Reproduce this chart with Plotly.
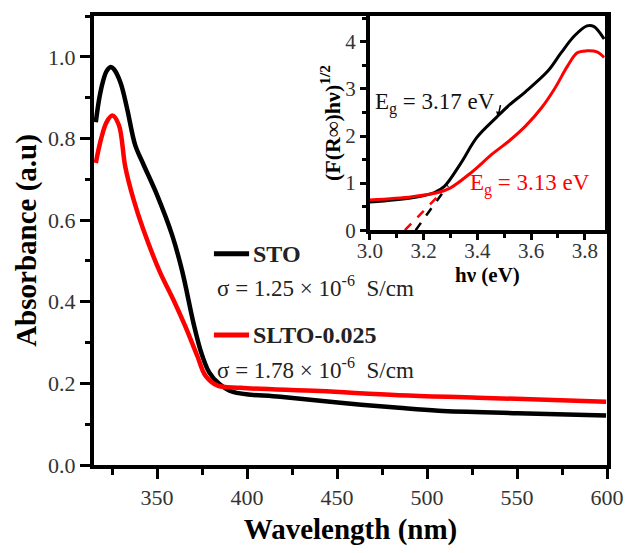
import plotly.graph_objects as go

# ---- main panel data (UV-vis absorbance) ----
sto_wl = [316, 318, 320, 322, 324.3, 326, 329.7, 333.4, 337.8, 342.3, 349.6, 358.5, 364,
          370.3, 374.6, 379, 384.5, 392.2, 418.5, 450.4, 484.4, 506.4, 550.3, 599.5]
sto_abs = [0.84, 0.90, 0.94, 0.965, 0.975, 0.97, 0.937, 0.873, 0.785, 0.738, 0.666, 0.562, 0.475,
           0.347, 0.275, 0.227, 0.199, 0.179, 0.167, 0.153, 0.140, 0.133, 0.127, 0.121]
slto_wl = [316, 319, 322, 325.2, 328.8, 332.4, 337, 342.3, 351.4, 359.3, 365.8, 372.4,
           376.9, 383.4, 396.6, 440.5, 484.3, 528.3, 599.5]
slto_abs = [0.74, 0.80, 0.84, 0.856, 0.833, 0.73, 0.65, 0.578, 0.475, 0.403, 0.339, 0.267,
            0.219, 0.195, 0.189, 0.181, 0.171, 0.165, 0.155]

# ---- inset data (Kubelka-Munk) ----
sto_ev = [3.0, 3.157, 3.24, 3.277, 3.338, 3.398, 3.47, 3.519, 3.579, 3.664, 3.712, 3.76,
          3.808, 3.833, 3.872]
sto_km = [0.60, 0.69, 0.80, 0.93, 1.42, 1.97, 2.39, 2.66, 2.94, 3.39, 3.77, 4.12, 4.34, 4.33, 4.06]
slto_ev = [3.0, 3.157, 3.253, 3.3, 3.374, 3.458, 3.519, 3.579, 3.639, 3.688, 3.736, 3.772,
           3.808, 3.845, 3.872]
slto_km = [0.64, 0.71, 0.80, 0.90, 1.21, 1.63, 1.90, 2.21, 2.60, 3.01, 3.49, 3.77, 3.81, 3.79, 3.67]
sto_fit_x = [3.17, 3.29]
sto_fit_y = [0.0, 0.95]
slto_fit_x = [3.13, 3.27]
slto_fit_y = [0.0, 0.82]

series_names = ["STO", "SLTO-0.025"]
sigma_labels = ["σ = 1.25 × 10<sup>-6</sup>  S/cm", "σ = 1.78 × 10<sup>-6</sup>  S/cm"]
eg_labels = ["E<sub>g</sub> = 3.17 eV", "E<sub>g</sub> = 3.13 eV"]

FONT = "Liberation Serif"
BLACK = "#000000"
RED = "#ff0000"

fig = go.Figure()
fig.add_trace(go.Scatter(x=sto_wl, y=sto_abs, mode="lines", name=series_names[0],
                         line=dict(color=BLACK, width=4.5), line_shape="spline",
                         xaxis="x", yaxis="y"))
fig.add_trace(go.Scatter(x=slto_wl, y=slto_abs, mode="lines", name=series_names[1],
                         line=dict(color=RED, width=4.5), line_shape="spline",
                         xaxis="x", yaxis="y"))

fig.add_trace(go.Scatter(x=sto_ev, y=sto_km, mode="lines", line=dict(color=BLACK, width=3),
                         line_shape="spline", xaxis="x2", yaxis="y2"))
fig.add_trace(go.Scatter(x=slto_ev, y=slto_km, mode="lines", line=dict(color=RED, width=3),
                         line_shape="spline", xaxis="x2", yaxis="y2"))
fig.add_trace(go.Scatter(x=sto_fit_x, y=sto_fit_y, mode="lines",
                         line=dict(color=BLACK, width=2.5, dash="dash"), xaxis="x2", yaxis="y2"))
fig.add_trace(go.Scatter(x=slto_fit_x, y=slto_fit_y, mode="lines",
                         line=dict(color=RED, width=2.5, dash="dash"), xaxis="x2", yaxis="y2"))

tickfont = dict(family=FONT, size=22, color="#333333")
inset_tickfont = dict(family=FONT, size=21, color="#333333")

fig.update_layout(
    width=636, height=553,
    margin=dict(l=94, r=16, t=16, b=78),
    paper_bgcolor="white", plot_bgcolor="white",
    showlegend=False,
    xaxis=dict(domain=[0, 1], range=[315, 600], dtick=50, tick0=0,
               showgrid=False, zeroline=False,
               showline=True, linecolor=BLACK, linewidth=4, mirror=True,
               ticks="outside", ticklen=10, tickwidth=3, tickcolor=BLACK,
               minor=dict(dtick=25, tick0=0, ticks="outside", ticklen=6, tickwidth=3, tickcolor=BLACK),
               tickfont=tickfont, ticklabeloverflow="allow",
               title=dict(text="<b>Wavelength (nm)</b>", font=dict(family=FONT, size=29, color=BLACK),
                          standoff=10)),
    yaxis=dict(domain=[0, 1], range=[0, 1.1], dtick=0.2, tick0=0, tickformat=".1f",
               showgrid=False, zeroline=False,
               showline=True, linecolor=BLACK, linewidth=4, mirror=True,
               ticks="outside", ticklen=10, tickwidth=3, tickcolor=BLACK,
               minor=dict(dtick=0.1, tick0=0, ticks="outside", ticklen=5, tickwidth=3, tickcolor=BLACK),
               tickfont=tickfont, ticklabeloverflow="allow",
               title=dict(text="<b>Absorbance (a.u)</b>", font=dict(family=FONT, size=29, color=BLACK),
                          standoff=4)),
    xaxis2=dict(domain=[0.538, 0.996], anchor="y2", range=[3.0, 3.875], dtick=0.2, tick0=0,
                tickformat=".1f", showgrid=False, zeroline=False,
                showline=True, linecolor=BLACK, linewidth=4, mirror=True,
                ticks="outside", ticklen=6, tickwidth=2.5, tickcolor=BLACK,
                minor=dict(dtick=0.1, tick0=0, ticks="outside", ticklen=4, tickwidth=2.5, tickcolor=BLACK),
                tickfont=inset_tickfont, ticklabelstandoff=-7, ticklabeloverflow="allow",
                title=dict(text="<b>hν (eV)</b>", font=dict(family=FONT, size=21, color=BLACK), standoff=0)),
    yaxis2=dict(domain=[0.523, 1.0], anchor="x2", range=[0, 4.55], dtick=1, tick0=0,
                showgrid=False, zeroline=False,
                showline=True, linecolor=BLACK, linewidth=4, mirror=True,
                ticks="outside", ticklen=6, tickwidth=2.5, tickcolor=BLACK,
                minor=dict(dtick=0.5, tick0=0, ticks="outside", ticklen=4, tickwidth=2.5, tickcolor=BLACK),
                tickfont=inset_tickfont, ticklabeloverflow="allow",
                title=dict(text="<b>(F(R∞)hν)<sup>1/2</sup></b>", font=dict(family=FONT, size=22, color=BLACK),
                           standoff=0)),
)

# legend drawn as line samples + labels (paper coordinates)
legend_y = [0.4706, 0.2898]
sigma_y = [0.3965, 0.2157]
legend_colors = [BLACK, RED]
for name, sig, ly, sy, col in zip(series_names, sigma_labels, legend_y, sigma_y, legend_colors):
    fig.add_shape(type="line", xref="paper", yref="paper", x0=0.2338, x1=0.3023, y0=ly, y1=ly,
                  line=dict(color=col, width=5))
    fig.add_annotation(xref="paper", yref="paper", x=0.306, y=ly, xanchor="left", yanchor="middle",
                       text=f"<b>{name}</b>", showarrow=False,
                       font=dict(family=FONT, size=24, color="#222222"))
    fig.add_annotation(xref="paper", yref="paper", x=0.2357, y=sy, xanchor="left", yanchor="middle",
                       text=sig, showarrow=False,
                       font=dict(family=FONT, size=23, color="#222222"))

# band-gap labels in the inset
fig.add_annotation(xref="x2", yref="y2", x=3.012, y=2.70, xanchor="left", yanchor="middle",
                   text=eg_labels[0], showarrow=False, font=dict(family=FONT, size=23, color="#111111"))
fig.add_annotation(xref="x2", yref="y2", x=3.366, y=0.975, xanchor="left", yanchor="middle",
                   text=eg_labels[1], showarrow=False, font=dict(family=FONT, size=23, color=RED))
fig.add_annotation(xref="x2", yref="y2", x=3.476, y=2.39, ax=3, ay=-14, text="",
                   showarrow=True, arrowhead=2, arrowsize=0.8, arrowwidth=1.5, arrowcolor=BLACK)

fig.write_html(
    "out.html",
    config={"displayModeBar": False},
    post_script=("document.body.style.margin='0';"
                 "document.body.style.overflow='hidden';"
                 "document.documentElement.style.overflow='hidden';"),
)
